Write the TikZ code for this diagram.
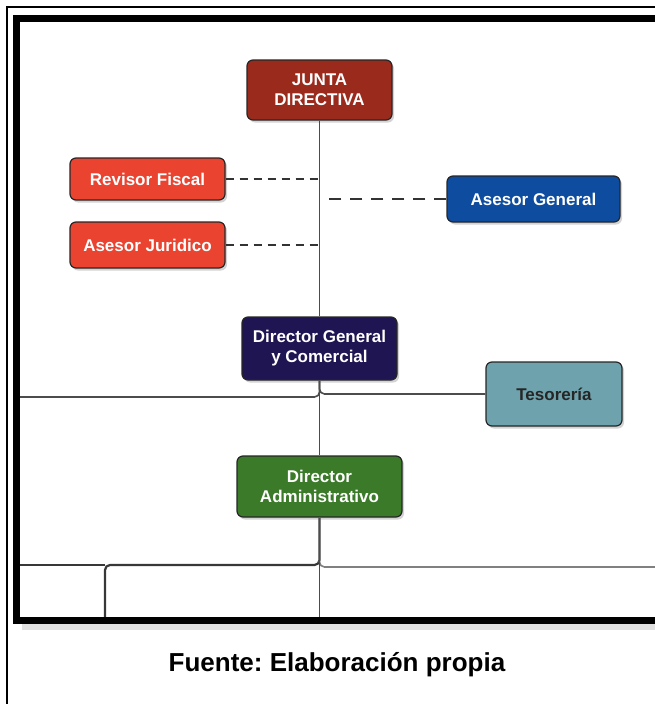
\documentclass[tikz,border=0pt]{standalone}
\usepackage{fontspec}
\setmainfont{Liberation Sans}
\usepackage{tikz}
\usetikzlibrary{shadows}
\definecolor{cjunta}{HTML}{9A2A1C}
\definecolor{crevisor}{HTML}{EA4330}
\definecolor{casesor}{HTML}{0D4C9E}
\definecolor{cdirgen}{HTML}{1F1552}
\definecolor{ctesoreria}{HTML}{6EA3AE}
\definecolor{cdiradm}{HTML}{3A7A28}
\frenchspacing

\begin{document}
\begin{tikzpicture}[x=1pt,y=-1pt,
  caja/.style={draw=black!85,line width=1.2pt,rounded corners=6pt,text=white,
    font=\bfseries\fontsize{17}{20}\selectfont,align=center,inner sep=0pt,
    drop shadow={shadow xshift=2pt,shadow yshift=-2.5pt,opacity=.35}},
  linea/.style={draw=black!70,line width=1.6pt},
  punteada/.style={draw=black!80,line width=1.6pt,dash pattern=on 8pt off 6pt}]
	\useasboundingbox (0,0) rectangle (655,704);
	% cajas
	\node[caja,fill=cjunta,minimum width=145pt,minimum height=60pt] (junta) at (319.5,90) {JUNTA\\DIRECTIVA};
	\node[caja,fill=crevisor,minimum width=155pt,minimum height=42pt] (revisor) at (147.5,179) {Revisor Fiscal};
	\node[caja,fill=crevisor,minimum width=155pt,minimum height=46pt] (juridico) at (147.5,245) {Asesor Juridico};
	\node[caja,fill=casesor,minimum width=173pt,minimum height=46pt] (asesor) at (533.5,199) {Asesor General};
	\node[caja,fill=cdirgen,minimum width=155pt,minimum height=63pt] (dirgen) at (319.5,348.5) {Director General\\y Comercial};
	\node[caja,fill=ctesoreria,text=black!85,minimum width=136pt,minimum height=64pt] (tesoreria) at (554,394) {Tesorería};
	\node[caja,fill=cdiradm,minimum width=165pt,minimum height=61pt] (diradm) at (319.5,486.5) {Director\\Administrativo};
	\node[font=\bfseries\fontsize{26}{30}\selectfont] (fuente) at (337,665) {Fuente: Elaboración propia};
	% puntos de llegada
	\coordinate (izq1) at (16,397);
	\coordinate (izq2) at (16,565);
	\coordinate (der2) at (660,567);
	\coordinate (ramal) at (105,565);
	\coordinate (ramalb) at (105,620);
	\coordinate (abajo) at (319.5,620);
	% lineas
	\draw[linea] (junta.south) -- (dirgen.north);
	\draw[punteada] (revisor.east) -- (revisor.east -| junta.south);
	\draw[punteada] (juridico.east) -- (juridico.east -| junta.south);
	\draw[punteada,dash pattern=on 12pt off 9pt,shorten >=3pt] (asesor.west) -- (asesor.west -| junta.south);
	\draw[linea,rounded corners=5pt] (dirgen.south) |- (izq1);
	\draw[linea,rounded corners=5pt] (dirgen.south) |- (tesoreria.west);
	\draw[linea] (dirgen.south) -- (diradm.north);
	\draw[linea,line width=2.2pt,draw=black!78,rounded corners=5pt] (diradm.south) |- (ramal) -- (ramalb);
	\draw[linea,line width=2.2pt,draw=black!78] (ramal) -- (izq2);
	\draw[linea,draw=black!50,rounded corners=5pt] (diradm.south) |- (der2);
	\draw[linea] (diradm.south) -- (abajo);
	% marco
	\draw[line width=6pt,black!12] (22,627) -- (670,627);
	\draw[line width=7pt,line join=miter] (670,18.5) -| (16.5,620) -- (670,620);
	\draw[line width=2pt] (7,710) -- (7,7) -- (670,7);
\end{tikzpicture}
\end{document}
